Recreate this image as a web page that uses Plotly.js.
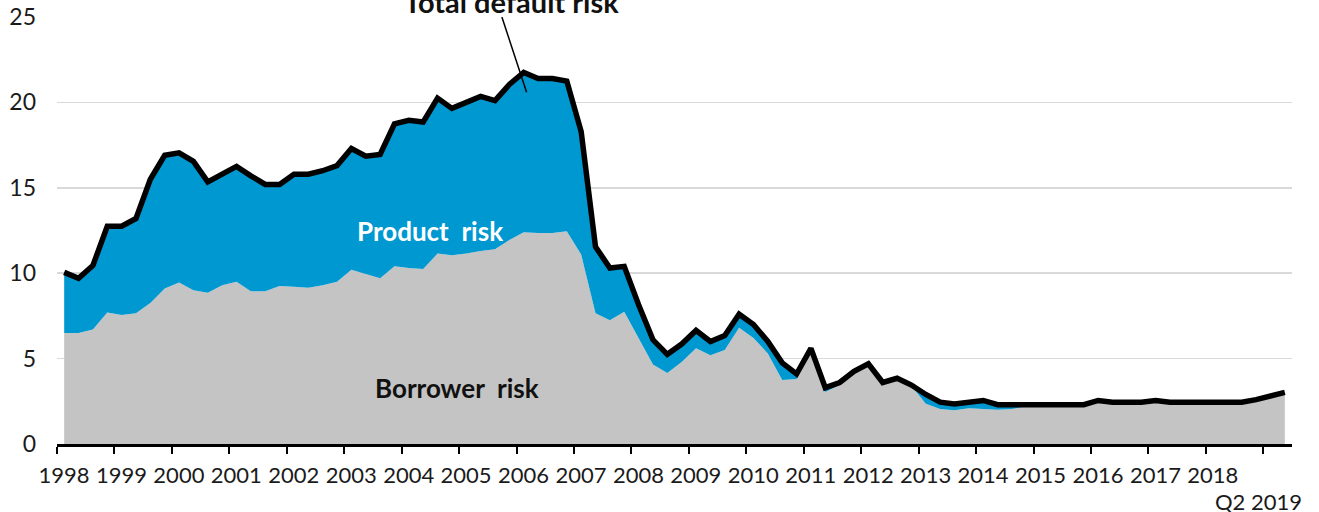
<!DOCTYPE html>
<html>
<head>
<meta charset="utf-8">
<script src="https://cdn.plot.ly/plotly-3.0.1.min.js"></script>
<style>
  html, body { margin: 0; padding: 0; background: #ffffff; }
  #chart { width: 1319px; height: 512px; }
</style>
</head>
<body>
<div id="chart"></div>
<script>
// Quarterly series, Q1 1998 to Q2 2019
const startYear = 1998;
const totalRisk = [
  10.05, 9.7, 10.45, 12.75, 12.75, 13.2, 15.5, 16.9, 17.05, 16.55,
  15.35, 15.8, 16.25, 15.7, 15.2, 15.2, 15.8, 15.8, 16.0, 16.3,
  17.3, 16.85, 16.95, 18.75, 18.95, 18.85, 20.25, 19.65, 20.0, 20.35,
  20.1, 21.05, 21.75, 21.4, 21.4, 21.25, 18.3, 11.55, 10.3, 10.4,
  8.15, 6.1, 5.25, 5.85, 6.65, 6.0, 6.35, 7.6, 7.0, 6.0,
  4.75, 4.1, 5.6, 3.3, 3.6, 4.25, 4.7, 3.6, 3.85, 3.45,
  2.9, 2.45, 2.35, 2.45, 2.55, 2.3, 2.3, 2.3, 2.3, 2.3,
  2.3, 2.3, 2.55, 2.45, 2.45, 2.45, 2.55, 2.45, 2.45, 2.45,
  2.45, 2.45, 2.45, 2.6, 2.8, 3.02
];
const borrowerRisk = [
  6.5, 6.5, 6.7, 7.7, 7.55, 7.65, 8.25, 9.1, 9.45, 9.0,
  8.85, 9.3, 9.5, 8.95, 8.95, 9.25, 9.2, 9.15, 9.3, 9.5,
  10.2, 9.95, 9.7, 10.4, 10.3, 10.25, 11.15, 11.05, 11.15, 11.3,
  11.4, 11.95, 12.4, 12.35, 12.35, 12.45, 11.1, 7.65, 7.25, 7.75,
  6.2, 4.65, 4.15, 4.8, 5.6, 5.2, 5.5, 6.8, 6.2, 5.3,
  3.75, 3.8, 5.45, 3.05, 3.45, 4.1, 4.55, 3.55, 3.8, 3.4,
  2.35, 2.05, 1.98, 2.1, 2.05, 2.0, 2.05, 2.2, 2.3, 2.3,
  2.3, 2.3, 2.55, 2.45, 2.45, 2.45, 2.55, 2.45, 2.45, 2.45,
  2.45, 2.45, 2.45, 2.6, 2.8, 3.02
];
const yearLabels = ["1998","1999","2000","2001","2002","2003","2004","2005","2006","2007","2008","2009","2010","2011","2012","2013","2014","2015","2016","2017","2018",""];
const lastLabel = "Q2 2019";
const yTicks = [0, 5, 10, 15, 20, 25];

const x = totalRisk.map((_, i) => startYear + i / 4);
const tickVals = yearLabels.map((_, k) => startYear + k - 0.125);

const FONT = "Lato, 'Open Sans', sans-serif";
const BLUE = "#0098D1";
const GREY = "#C4C4C4";

const traces = [
  { x: x, y: borrowerRisk, type: "scatter", mode: "lines", fill: "tozeroy",
    fillcolor: GREY, line: { width: 0, color: GREY }, hoverinfo: "skip", showlegend: false },
  { x: x, y: totalRisk, type: "scatter", mode: "lines", fill: "tonexty",
    fillcolor: BLUE, line: { width: 0, color: BLUE }, hoverinfo: "skip", showlegend: false },
  { x: x, y: totalRisk, type: "scatter", mode: "lines",
    line: { width: 5.5, color: "#000000" }, hoverinfo: "skip", showlegend: false }
];

const layout = {
  width: 1319, height: 512,
  margin: { l: 57, r: 27, t: 17, b: 68 },
  paper_bgcolor: "#ffffff", plot_bgcolor: "#ffffff",
  font: { family: FONT, color: "#1a1a1a" },
  showlegend: false,
  xaxis: {
    range: [startYear - 0.125, startYear + (totalRisk.length - 1) / 4 + 0.125],
    tickmode: "array", tickvals: tickVals, ticktext: yearLabels,
    ticks: "outside", ticklen: 7, tickwidth: 2, tickcolor: "#000",
    ticklabelshift: 7, ticklabelstandoff: 3,
    showline: true, linecolor: "#000", linewidth: 2.5,
    showgrid: false, zeroline: false,
    tickfont: { family: FONT, size: 22, color: "#1a1a1a" }
  },
  yaxis: {
    range: [0, 25], tickmode: "array", tickvals: yTicks,
    showgrid: true, gridcolor: "#D9D9D9", gridwidth: 1.5,
    zeroline: false, showline: false, ticks: "",
    ticklabelstandoff: 20,
    tickfont: { family: FONT, size: 23, color: "#1a1a1a" }
  },
  annotations: [
    { xref: "x", yref: "y", x: 2004.375, y: 12.5, text: "<b>Product&nbsp; risk</b>",
      showarrow: false, font: { family: FONT, size: 26, color: "#ffffff" } },
    { xref: "x", yref: "y", x: 2004.83, y: 3.3, text: "<b>Borrower&nbsp; risk</b>",
      showarrow: false, font: { family: FONT, size: 26, color: "#111" } },
    { xref: "x", yref: "paper", x: 2005.78, y: 1.037, yanchor: "middle",
      text: "<b>Total default risk</b>",
      showarrow: false, font: { family: FONT, size: 29, color: "#111" } },
    { xref: "x", yref: "paper", x: startYear + (totalRisk.length - 1) / 4, y: 0, yanchor: "top",
      xanchor: "right", xshift: 19, yshift: -42, text: lastLabel,
      showarrow: false, font: { family: FONT, size: 22, color: "#1a1a1a" } }
  ],
  shapes: [
    { type: "line", xref: "x", yref: "y", x0: 2005.62, y0: 25, x1: 2006.05, y1: 20.6,
      line: { color: "#000", width: 1.5 } }
  ]
};

Plotly.newPlot("chart", traces, layout, { staticPlot: true, displayModeBar: false });
</script>
</body>
</html>
